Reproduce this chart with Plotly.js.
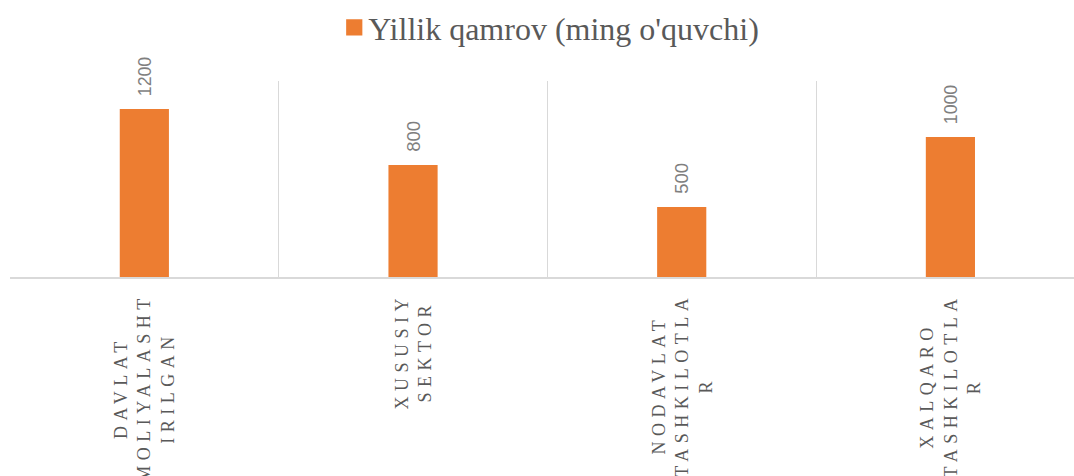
<!DOCTYPE html>
<html>
<head>
<meta charset="utf-8">
<script src="https://cdn.plot.ly/plotly-3.0.1.min.js"></script>
<style>
  html, body { margin: 0; padding: 0; background: #fff; overflow: hidden; }
  #chart { width: 1074px; height: 476px; }
  .annotation-text { letter-spacing: 5.5px; }
  .legend .legendpoints path { transform: translate(26px, 0px) scale(1.35); }
</style>
</head>
<body>
<div id="chart"></div>
<script>
const categories = [
  "DAVLAT MOLIYALASHTIRILGAN",
  "XUSUSIY SEKTOR",
  "NODAVLAT TASHKILOTLAR",
  "XALQARO TASHKILOTLAR"
];
const tickLabels = [
  "DAVLAT<br>MOLIYALASHT<br>IRILGAN",
  "XUSUSIY<br>SEKTOR",
  "NODAVLAT<br>TASHKILOTLA<br>R",
  "XALQARO<br>TASHKILOTLA<br>R"
];
const seriesName = "Yillik qamrov (ming o'quvchi)";
const values = [1200, 800, 500, 1000];

const trace = {
  type: 'bar',
  x: categories,
  y: values,
  name: seriesName,
  showlegend: true,
  marker: { color: '#ED7D31' },
  text: values.map(String),
  texttemplate: '\u00a0\u00a0%{text}',
  textposition: 'outside',
  textangle: -90,
  cliponaxis: false,
  textfont: { family: 'Liberation Sans, Arial, sans-serif', size: 18.5, color: '#7F7F7F' },
  hoverinfo: 'none'
};

const annotations = categories.map((c, i) => ({
  x: c,
  xref: 'x',
  y: 0,
  yref: 'paper',
  yanchor: 'top',
  xanchor: 'center',
  yshift: -14,
  text: tickLabels[i],
  textangle: -90,
  align: 'center',
  showarrow: false,
  font: { family: 'Liberation Serif, Times New Roman, serif', size: 18, color: '#595959' }
}));

const layout = {
  width: 1074,
  height: 476,
  margin: { l: 10, r: 0, t: 80, b: 199 },
  paper_bgcolor: '#ffffff',
  plot_bgcolor: '#ffffff',
  bargap: 0.817,
  showlegend: true,
  legend: {
    orientation: 'h',
    x: 0.504, xanchor: 'center',
    y: 1.275, yanchor: 'middle',
    yref: 'paper',
    font: { family: 'Liberation Serif, Times New Roman, serif', size: 32, color: '#595959' },
    itemwidth: 30
  },
  annotations: annotations,
  xaxis: {
    type: 'category',
    range: [-0.5, 3.46],
    tickson: 'boundaries',
    showgrid: true,
    gridcolor: '#D9D9D9',
    gridwidth: 1,
    showline: true,
    linecolor: '#D9D9D9',
    linewidth: 1.5,
    ticks: '',
    showticklabels: false,
    fixedrange: true
  },
  yaxis: {
    range: [0, 1400],
    showgrid: false,
    zeroline: false,
    showline: false,
    showticklabels: false,
    ticks: '',
    fixedrange: true
  }
};

Plotly.newPlot('chart', [trace], layout, { displayModeBar: false, staticPlot: true });
</script>
</body>
</html>
